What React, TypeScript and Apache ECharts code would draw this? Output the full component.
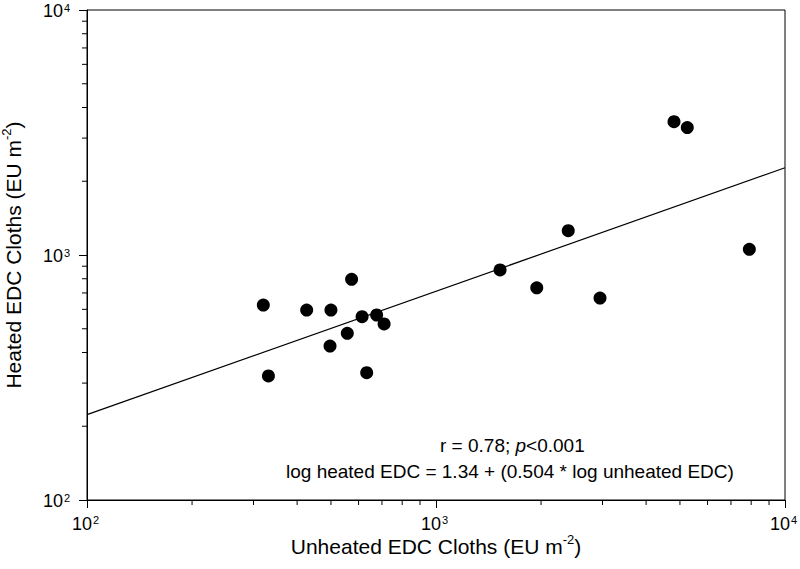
import React, { useEffect, useRef } from "react";
import * as echarts from "echarts";

// Unheated (x) vs heated (y) EDC cloths, EU m^-2
const unheated = [320, 331, 426, 500, 497, 573, 557, 614, 676, 710, 633, 1526, 1944, 2393, 2951, 4808, 5248, 7904];
const heated = [625, 321, 596, 596, 425, 796, 479, 560, 569, 523, 331, 869, 735, 1257, 667, 3499, 3311, 1055];

// Regression line end points (log heated = 1.34 + 0.504 log unheated)
const fitX = [100, 10000];
const fitY = [223, 2270];

const axisMin = 100;
const axisMax = 10000;
const majorTickValues = [100, 1000, 10000];
const minorTickValues = [200, 300, 400, 500, 600, 700, 800, 900, 2000, 3000, 4000, 5000, 6000, 7000, 8000, 9000];

const statLine1 = "r = 0.78; ";
const statLine1b = "p";
const statLine1c = "<0.001";
const statLine2 = "log heated EDC = 1.34 + (0.504 * log unheated EDC)";
const xTitle = "Unheated EDC Cloths (EU m";
const yTitle = "Heated EDC Cloths (EU m";
const unitSup = "-2";

const FONT = "'Liberation Sans', Arial, Helvetica, sans-serif";

export default function App() {
  const ref = useRef<HTMLDivElement>(null);
  useEffect(() => {
    if (!ref.current) return;
    const chart = echarts.init(ref.current, undefined, { renderer: "svg" });
    const exp = (v: number) => String(Math.round(Math.log10(v)));
    const baseStyle = { fontSize: 18, fontFamily: FONT, fill: "#000", lineHeight: 12 };
    const supStyle = { fontSize: 11, fontFamily: FONT, fill: "#000", lineHeight: 11 };
    const titleRich = {
      a: { fontSize: 21, fontFamily: FONT, color: "#000", lineHeight: 24, verticalAlign: "bottom" },
      s: { fontSize: 13, fontFamily: FONT, color: "#000", lineHeight: 24, verticalAlign: "top" },
    };
    const option: any = {
      animation: false,
      backgroundColor: "#fff",
      grid: {
        left: 87, right: 15, top: 10, bottom: 69,
        containLabel: false, outerBoundsMode: "none",
        show: true, borderColor: "#000", borderWidth: 1, backgroundColor: "transparent",
      },
      xAxis: {
        type: "log",
        logBase: 10,
        min: axisMin,
        max: axisMax,
        name: `{a|${xTitle}}{s|${unitSup}}{a|)}`,
        nameLocation: "middle",
        nameGap: 33,
        nameMoveOverlap: false,
        nameTextStyle: { fontSize: 21, fontFamily: FONT, color: "#000", rich: titleRich },
        axisLine: { show: true, lineStyle: { color: "#000", width: 1 } },
        axisTick: { show: true, inside: false, length: 8, lineStyle: { color: "#000", width: 1 } },
        axisLabel: { show: false },
        splitLine: { show: false },
        minorTick: { show: false },
      },
      yAxis: {
        type: "log",
        logBase: 10,
        min: axisMin,
        max: axisMax,
        name: `{a|${yTitle}}{s|${unitSup}}{a|)}`,
        nameLocation: "middle",
        nameRotate: 90,
        nameGap: 63,
        nameMoveOverlap: false,
        nameTextStyle: { fontSize: 21, fontFamily: FONT, color: "#000", rich: titleRich },
        axisLine: { show: true, lineStyle: { color: "#000", width: 1 } },
        axisTick: { show: true, inside: false, length: 8, lineStyle: { color: "#000", width: 1 } },
        axisLabel: { show: false },
        splitLine: { show: false },
        minorTick: { show: false },
      },
      series: [
        {
          type: "line",
          data: fitX.map((x, i) => [x, fitY[i]]),
          showSymbol: false,
          symbol: "none",
          lineStyle: { color: "#000", width: 1.2 },
          silent: true,
          z: 2,
        },
        {
          type: "scatter",
          data: unheated.map((x, i) => [x, heated[i]]),
          symbol: "circle",
          symbolSize: 13,
          itemStyle: { color: "#000", opacity: 1 },
          z: 3,
        },
        {
          type: "custom",
          clip: false,
          silent: true,
          data: minorTickValues.map((v) => [v, axisMin]),
          renderItem: (_p: any, api: any) => {
            const pt = api.coord([api.value(0), axisMin]);
            return {
              type: "line",
              shape: { x1: pt[0], y1: pt[1], x2: pt[0], y2: pt[1] + 5 },
              style: { stroke: "#000", lineWidth: 1 },
            };
          },
        },
        {
          type: "custom",
          clip: false,
          silent: true,
          data: minorTickValues.map((v) => [axisMin, v]),
          renderItem: (_p: any, api: any) => {
            const pt = api.coord([axisMin, api.value(1)]);
            return {
              type: "line",
              shape: { x1: pt[0] - 5, y1: pt[1], x2: pt[0], y2: pt[1] },
              style: { stroke: "#000", lineWidth: 1 },
            };
          },
        },
        {
          // x-axis tick labels
          type: "custom",
          clip: false,
          silent: true,
          data: majorTickValues.map((v) => [v, axisMin]),
          renderItem: (_p: any, api: any) => {
            const v = api.value(0);
            const pt = api.coord([v, axisMin]);
            return {
              type: "group",
              children: [
                {
                  type: "text",
                  x: pt[0] + 5,
                  y: pt[1] + 18,
                  style: { ...baseStyle, text: "10", align: "right", verticalAlign: "top" },
                },
                {
                  type: "text",
                  x: pt[0] + 6,
                  y: pt[1] + 14,
                  style: { ...supStyle, text: exp(v), align: "left", verticalAlign: "top" },
                },
              ],
            };
          },
        },
        {
          // y-axis tick labels
          type: "custom",
          clip: false,
          silent: true,
          data: majorTickValues.map((v) => [axisMin, v]),
          renderItem: (_p: any, api: any) => {
            const v = api.value(1);
            const pt = api.coord([axisMin, v]);
            return {
              type: "group",
              children: [
                {
                  type: "text",
                  x: pt[0] - 24,
                  y: pt[1] + 1,
                  style: { ...baseStyle, text: "10", align: "right", verticalAlign: "middle" },
                },
                {
                  type: "text",
                  x: pt[0] - 23,
                  y: pt[1] - 8,
                  style: { ...supStyle, text: exp(v), align: "left", verticalAlign: "top" },
                },
              ],
            };
          },
        },
      ],
      graphic: [
        {
          type: "text",
          left: 440,
          top: 436,
          style: {
            text: `{n|${statLine1}}{i|${statLine1b}}{n|${statLine1c}}`,
            rich: {
              n: { fontSize: 19, fontFamily: FONT, fill: "#000" },
              i: { fontSize: 19, fontFamily: FONT, fill: "#000", fontStyle: "italic" },
            },
          },
        },
        {
          type: "text",
          left: 286,
          top: 462,
          style: { text: statLine2, fontSize: 19, fontFamily: FONT, fill: "#000" },
        },
      ],
    };
    chart.setOption(option);
    return () => chart.dispose();
  }, []);
  return <div ref={ref} style={{ position: "fixed", left: 0, top: 0, width: 800, height: 569 }} />;
}
